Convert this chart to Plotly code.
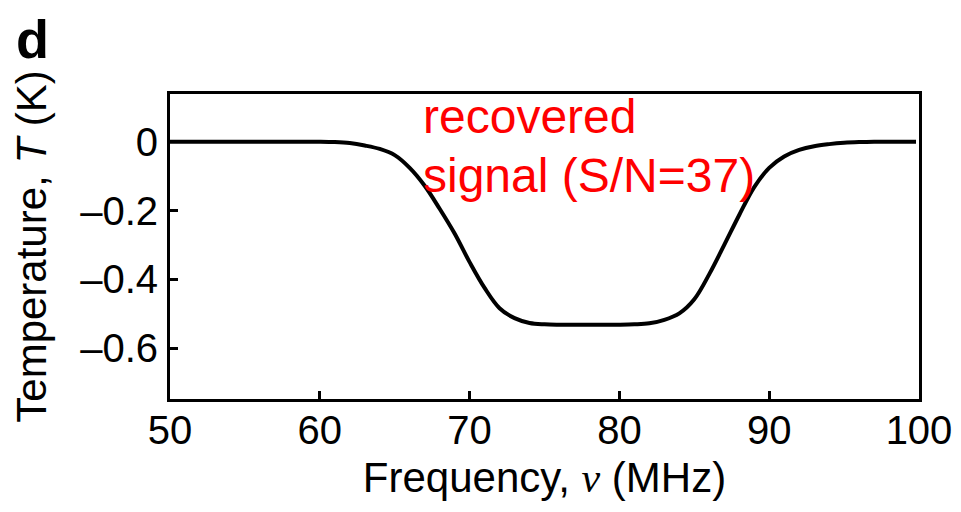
import plotly.graph_objects as go

# Frequency (MHz) and recovered signal temperature (K)
freq_mhz = [50, 51, 52, 53, 54, 55, 56, 57, 58, 59, 60,
            61, 62, 63, 64, 65, 66, 67, 68, 69, 70,
            71, 72, 73, 74, 75, 76, 77, 78, 79, 80,
            81, 82, 83, 84, 85, 86, 87, 88, 89, 90,
            91, 92, 93, 94, 95, 96, 97, 98, 99, 99.8]
temp_k = [0, 0, 0, 0, 0, 0, 0, 0, 0, 0, 0,
          -0.001, -0.004, -0.011, -0.021, -0.039, -0.076, -0.128, -0.195, -0.267, -0.35,
          -0.425, -0.484, -0.513, -0.527, -0.531, -0.532, -0.532, -0.532, -0.532, -0.532,
          -0.531, -0.528, -0.518, -0.499, -0.458, -0.385, -0.30, -0.213, -0.132, -0.076,
          -0.043, -0.024, -0.013, -0.007, -0.003, -0.001, 0, 0, 0, 0]

x_ticks = [50, 60, 70, 80, 90, 100]
y_ticks = [0, -0.2, -0.4, -0.6]
y_tick_text = ["0", "–0.2", "–0.4", "–0.6"]

panel_label = "d"
note_line1 = "recovered"
note_line2 = "signal (S/N=37)"

# The page body adds an 8 px margin; the figure is sized to fill the rest.
PAGE_OFF = 8
W, H = 961 - PAGE_OFF, 512 - PAGE_OFF
L, R, T, B = 162, 42, 86, 113
PW, PH = W - L - R, H - T - B

def px_x(p):  # page pixel -> paper x
    return (p - PAGE_OFF - L) / PW

def px_y(p):  # page pixel -> paper y
    return (H - B - (p - PAGE_OFF)) / PH

FONT = "Liberation Sans, Arial, sans-serif"

fig = go.Figure()
fig.add_trace(go.Scatter(
    x=freq_mhz, y=temp_k, mode="lines",
    line=dict(color="black", width=4, shape="spline", smoothing=1),
    showlegend=False, hoverinfo="skip",
))

axis_common = dict(
    showline=True, linecolor="black", linewidth=3, mirror=True,
    showgrid=False, zeroline=False,
    ticks="inside", ticklen=8, tickwidth=3, tickcolor="black",
    tickfont=dict(family=FONT, size=40, color="black"),
)

fig.update_layout(
    width=W, height=H,
    margin=dict(l=L, r=R, t=T, b=B, autoexpand=False),
    paper_bgcolor="white", plot_bgcolor="white",
    xaxis=dict(
        range=[50, 100], tickvals=x_ticks, ticktext=[str(v) for v in x_ticks],
        ticklabelstandoff=-6,
        title=dict(text="Frequency, <span style=\"font-family:Liberation Serif\"><i>ν</i></span> (MHz)",
                   font=dict(family=FONT, size=42, color="black"), standoff=12),
        **axis_common,
    ),
    yaxis=dict(
        range=[-0.748, 0.1387], tickvals=y_ticks, ticktext=y_tick_text,
        ticklabelstandoff=1,
        title=dict(text="Temperature, <i>T</i> (K)",
                   font=dict(family=FONT, size=42, color="black"), standoff=21),
        **axis_common,
    ),
    showlegend=False,
)

fig.add_annotation(
    text="<b>" + panel_label + "</b>", xref="paper", yref="paper",
    x=px_x(15), y=px_y(PAGE_OFF), xanchor="left", yanchor="top", showarrow=False,
    borderpad=0, font=dict(family=FONT, size=54, color="black"),
)
fig.add_annotation(
    text=note_line1, xref="paper", yref="paper",
    x=px_x(421), y=px_y(88), xanchor="left", yanchor="top", showarrow=False,
    font=dict(family=FONT, size=48, color="#ff0000"),
)
fig.add_annotation(
    text=note_line2, xref="paper", yref="paper",
    x=px_x(421), y=px_y(147), xanchor="left", yanchor="top", showarrow=False,
    font=dict(family=FONT, size=48, color="#ff0000"),
)

fig.write_html("out.html")
